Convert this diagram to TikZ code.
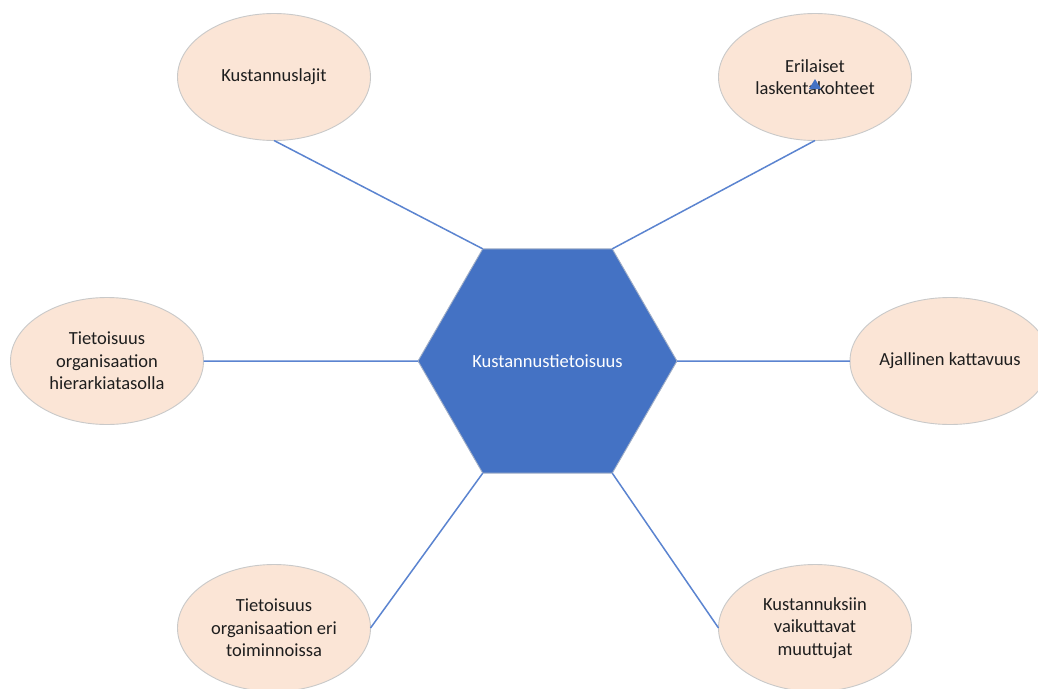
\documentclass[tikz,border=0pt]{standalone}
\usepackage{fontspec}
\setmainfont{Carlito}
\usetikzlibrary{shapes.geometric}
\definecolor{hexblue}{HTML}{4472C4}
\definecolor{linkblue}{HTML}{5B84D0}
\definecolor{peach}{HTML}{FBE5D6}
\definecolor{rimgray}{HTML}{C9C9C9}
\definecolor{txt}{HTML}{1E1E1E}
\tikzset{
  bubble/.style={ellipse, draw=rimgray, line width=0.9pt, fill=peach,
    minimum width=193pt, minimum height=127pt, inner sep=0pt, outer sep=0pt,
    align=center, text=txt, font=\fontsize{18.5}{22.5}\selectfont},
  hub/.style={regular polygon, regular polygon sides=6, minimum size=259pt,
    draw=rimgray!70!hexblue, line width=0.9pt, fill=hexblue, inner sep=0pt,
    outer sep=0pt, text=white, font=\fontsize{18.5}{22.5}\selectfont},
  link/.style={draw=linkblue, line width=1.5pt}
}
\begin{document}
\begin{tikzpicture}[x=1pt,y=-1pt]
  \useasboundingbox (0,0) rectangle (1038,688);
  \clip (0,0) rectangle (1038,688);
  \fill[white] (0,0) rectangle (1038,688);

  % central hexagon
  \node[hub] (core) at (547.5,361) {Kustannustietoisuus};

  % surrounding topics
  \node[bubble] (lajit)   at (274,77)  {Kustannuslajit};
  \node[bubble] (kohteet) at (815,77)  {Erilaiset\\laskentakohteet};
  \node[bubble] (hier)    at (107,361) {Tietoisuus\\organisaation\\hierarkiatasolla};
  \node[bubble] (aika)    at (950,361) {Ajallinen kattavuus};
  \node[bubble] (toim)    at (274,628) {Tietoisuus\\organisaation eri\\toiminnoissa};
  \node[bubble] (muutt)   at (815,628) {Kustannuksiin\\vaikuttavat\\muuttujat};

  % spokes from the hexagon corners
  \draw[link] (core.120) -- (lajit.south);
  \draw[link] (core.60)  -- (kohteet.south);
  \draw[link] (core.180) -- (hier.east);
  \draw[link] (core.0)   -- (aika.west);
  \draw[link] (core.240) -- (toim.east);
  \draw[link] (core.300) -- (muutt.west);

  % small pointer mark inside the top-right bubble
  \fill[hexblue] (815,79) -- (821,89) -- (809,89) -- cycle;
\end{tikzpicture}
\end{document}
